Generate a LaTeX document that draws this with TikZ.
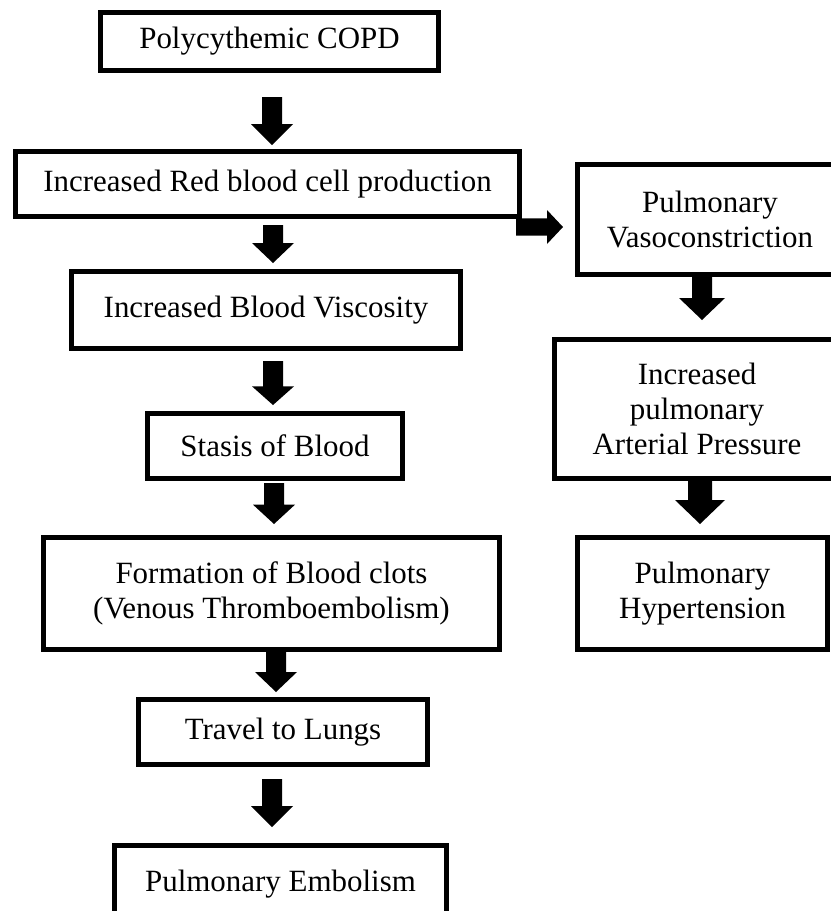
\documentclass[tikz,border=0pt]{standalone}
\usepackage{fontspec}
\setmainfont{Liberation Serif}
\usetikzlibrary{calc}
\tikzset{
  box/.style={draw=black, line width=3.75pt, rectangle, inner sep=0pt, align=center,
    font=\fontsize{23.2}{26.5}\selectfont},
  sz/.style 2 args={minimum width=#1*0.75pt, minimum height=#2*0.75pt},
  dblock/.style n args={3}{to path={let \p1=(\tikztostart), \p2=(\tikztotarget) in
    (\x1-#1,\y1) -- (\x1-#1,\y2+#3) -- (\x1-#2,\y2+#3) -- (\x2,\y2) -- (\x1+#2,\y2+#3) -- (\x1+#1,\y2+#3) -- (\x1+#1,\y1) -- cycle}},
  rblock/.style n args={3}{to path={let \p1=(\tikztostart), \p2=(\tikztotarget) in
    (\x1,\y1+#1) -- (\x2-#3,\y1+#1) -- (\x2-#3,\y1+#2) -- (\x2,\y2) -- (\x2-#3,\y1-#2) -- (\x2-#3,\y1-#1) -- (\x1,\y1-#1) -- cycle}},
}
\begin{document}
\begin{tikzpicture}[x=0.75pt,y=-0.75pt]
\useasboundingbox (0,0) rectangle (831,911);
\fill[white] (0,0) rectangle (831,911);
\clip (0,0) rectangle (831,911);

% left column
\node[box, sz={338}{58}] (b1) at (269.5,41.5) {Polycythemic COPD};
\node[box, sz={504}{65}] (b2) at (267.5,184) {Increased Red blood cell production};
\node[box, sz={389}{77}] (b3) at (266,310) {Increased Blood Viscosity};
\node[box, sz={255}{65}] (b4) at (275,446) {Stasis of Blood};
\node[box, sz={456}{112}] (b5) at (271.5,593.5) {Formation of Blood clots\\(Venous Thromboembolism)};
\node[box, sz={289}{65}] (b6) at (283,732) {Travel to Lungs};
\node[box, sz={332}{77}] (b7) at (280.5,884) {Pulmonary Embolism};

% right column
\node[box, sz={265}{110}] (r1) at (710,219.5) {Pulmonary\\Vasoconstriction};
\node[box, sz={285}{139}] (r2) at (697,409) {Increased\\pulmonary\\Arterial Pressure};
\node[box, sz={250}{112}] (r3) at (702.5,593.5) {Pulmonary\\Hypertension};

% arrow end points
\coordinate (a1s) at (272,97);  \coordinate (a1t) at (272,145);
\coordinate (a2s) at (273,225); \coordinate (a2t) at (273,263);
\coordinate (a3s) at (273,361); \coordinate (a3t) at (273,405);
\coordinate (a4s) at (274,483); \coordinate (a4t) at (274,524);
\coordinate (a5s) at (276,652); \coordinate (a5t) at (276,692);
\coordinate (a6s) at (272,779); \coordinate (a6t) at (272,827);
\coordinate (h1s) at (516,227); \coordinate (h1t) at (563,227);
\coordinate (r2s) at (702,277); \coordinate (r2t) at (702,320);
\coordinate (r3s) at (700,481); \coordinate (r3t) at (700,524);

\fill[black] (a1s) to[dblock={7.5pt}{15.75pt}{15.75pt}] (a1t);
\fill[black] (a2s) to[dblock={7.5pt}{15.75pt}{15pt}] (a2t);
\fill[black] (a3s) to[dblock={7.5pt}{15.75pt}{14pt}] (a3t);
\fill[black] (a4s) to[dblock={7.5pt}{15.75pt}{14.5pt}] (a4t);
\fill[black] (a5s) to[dblock={7.5pt}{15.75pt}{15pt}] (a5t);
\fill[black] (a6s) to[dblock={7.5pt}{15.75pt}{15.75pt}] (a6t);
\fill[black] (h1s) to[rblock={6.4pt}{12.75pt}{12pt}] (h1t);
\fill[black] (r2s) to[dblock={7.5pt}{17.25pt}{16.5pt}] (r2t);
\fill[black] (r3s) to[dblock={9pt}{18.75pt}{18pt}] (r3t);
\end{tikzpicture}
\end{document}
